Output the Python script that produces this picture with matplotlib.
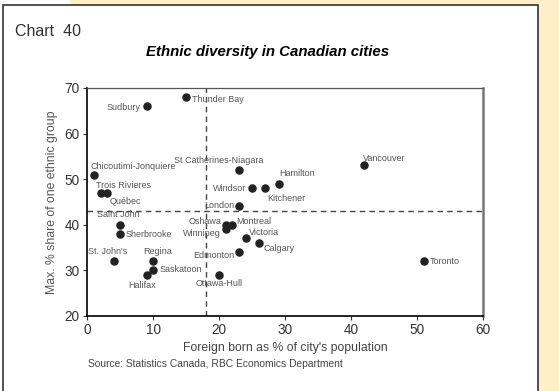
import matplotlib
matplotlib.use('Agg')
import matplotlib.pyplot as plt
from matplotlib.patches import Rectangle

plt.rcParams['font.family'] = ['Liberation Sans', 'DejaVu Sans']

cities = ['Sudbury', 'Thunder Bay', 'Chicoutimi-Jonquiere', 'Trois Rivieres', 'Québec',
          'Saint John', 'Sherbrooke', "St. John's", 'Regina', 'Saskatoon', 'Halifax',
          'St Catherines-Niagara', 'Windsor', 'Kitchener', 'Hamilton', 'Vancouver',
          'London', 'Oshawa', 'Montreal', 'Winnipeg', 'Victoria', 'Calgary',
          'Edmonton', 'Ottawa-Hull', 'Toronto']
foreign_born = [9, 15, 1, 2, 3, 5, 5, 4, 10, 10, 9, 23, 25, 27, 29, 42,
                23, 21, 22, 21, 24, 26, 23, 20, 51]
max_share = [66, 68, 51, 47, 47, 40, 38, 32, 32, 30, 29, 52, 48, 48, 49, 53,
             44, 40, 40, 39, 37, 36, 34, 29, 32]

# label placement: (dx px, dy px, ha)
lab = {
    'Sudbury': (-6, -1, 'right'), 'Thunder Bay': (6, -2, 'left'),
    'Chicoutimi-Jonquiere': (-3, 8, 'left'), 'Trois Rivieres': (-4, 7, 'left'),
    'Québec': (3, -9, 'left'), 'Saint John': (-1.5, 10, 'center'),
    'Sherbrooke': (5, -1, 'left'), "St. John's": (-6, 10, 'center'),
    'Regina': (4, 10, 'center'), 'Saskatoon': (6, 1, 'left'),
    'Halifax': (-5, -11, 'center'), 'St Catherines-Niagara': (-20, 9, 'center'),
    'Windsor': (-6, 0, 'right'), 'Kitchener': (2, -10, 'left'),
    'Hamilton': (1, 10, 'left'), 'Vancouver': (-2, 7, 'left'),
    'London': (-5, 1, 'right'), 'Oshawa': (-4, 3, 'right'),
    'Montreal': (4, 3, 'left'), 'Winnipeg': (-5, -4, 'right'),
    'Victoria': (3.5, 5.5, 'left'), 'Calgary': (5, -6, 'left'),
    'Edmonton': (-5, -3.5, 'right'), 'Ottawa-Hull': (0, -9, 'center'),
    'Toronto': (6, 0, 'left'),
}

W, H = 559, 391
fig = plt.figure(figsize=(W / 100, H / 100), dpi=100)
fig.patch.set_facecolor('#FFEFC6')
fig.add_artist(Rectangle((0, 1 - 5 / H), 70 / W, 5 / H, transform=fig.transFigure,
                         facecolor='white', edgecolor='none', zorder=0))
fig.add_artist(Rectangle((0, 0), 3 / W, 1, transform=fig.transFigure,
                         facecolor='white', edgecolor='none', zorder=0))
fig.add_artist(Rectangle((3 / W, -0.02), 535 / W, 1.02 - 5 / H, transform=fig.transFigure,
                         facecolor='white', edgecolor='#333333', linewidth=1.2, zorder=0))

ax = fig.add_axes([87.3 / W, 1 - 315.7 / H, 396 / W, 227.7 / H])
ax.set_facecolor('white')
ax.set_xlim(0, 60)
ax.set_ylim(20, 70)
ax.set_xticks(range(0, 61, 10))
ax.set_yticks(range(20, 71, 10))
ax.tick_params(labelsize=9.8, colors='#333333', length=3, width=0.8, pad=2.5)
for s in ['left', 'bottom']:
    ax.spines[s].set_color('black')
    ax.spines[s].set_linewidth(1.2)
ax.spines['top'].set_color('#555555')
ax.spines['top'].set_linewidth(0.9)
ax.spines['right'].set_color('#777777')
ax.spines['right'].set_linewidth(1.8)

ax.axvline(18, color='#444444', lw=1, ls=(0, (4, 3)), zorder=1)
ax.axhline(43, color='#444444', lw=1, ls=(0, (4, 3)), zorder=1)

ax.scatter(foreign_born, max_share, s=26, color='#222222', zorder=3)
for c, x, y in zip(cities, foreign_born, max_share):
    dx, dy, ha = lab[c]
    ax.annotate(c, (x, y), xytext=(dx, dy), textcoords='offset pixels',
                ha=ha, va='center', fontsize=6.5, color='#555555', zorder=4)

ax.set_xlabel("Foreign born as % of city's population", fontsize=8.8, color='#444444', labelpad=3)
ax.set_ylabel('Max. % share of one ethnic group', fontsize=8.8, color='#555555', labelpad=5)

fig.text(15 / W, 1 - 31.7 / H, 'Chart  40', fontsize=11.5, color='#333333', va='center', ha='left')
fig.text(268 / W, 1 - 51.7 / H, 'Ethnic diversity in Canadian cities', fontsize=10.8,
         fontweight='bold', fontstyle='italic', color='black', va='center', ha='center')
fig.text(87.7 / W, 1 - 364.3 / H, 'Source: Statistics Canada, RBC Economics Department',
         fontsize=7.4, color='#444444', va='center', ha='left')

fig.savefig('out.png', dpi=100, facecolor=fig.get_facecolor())
